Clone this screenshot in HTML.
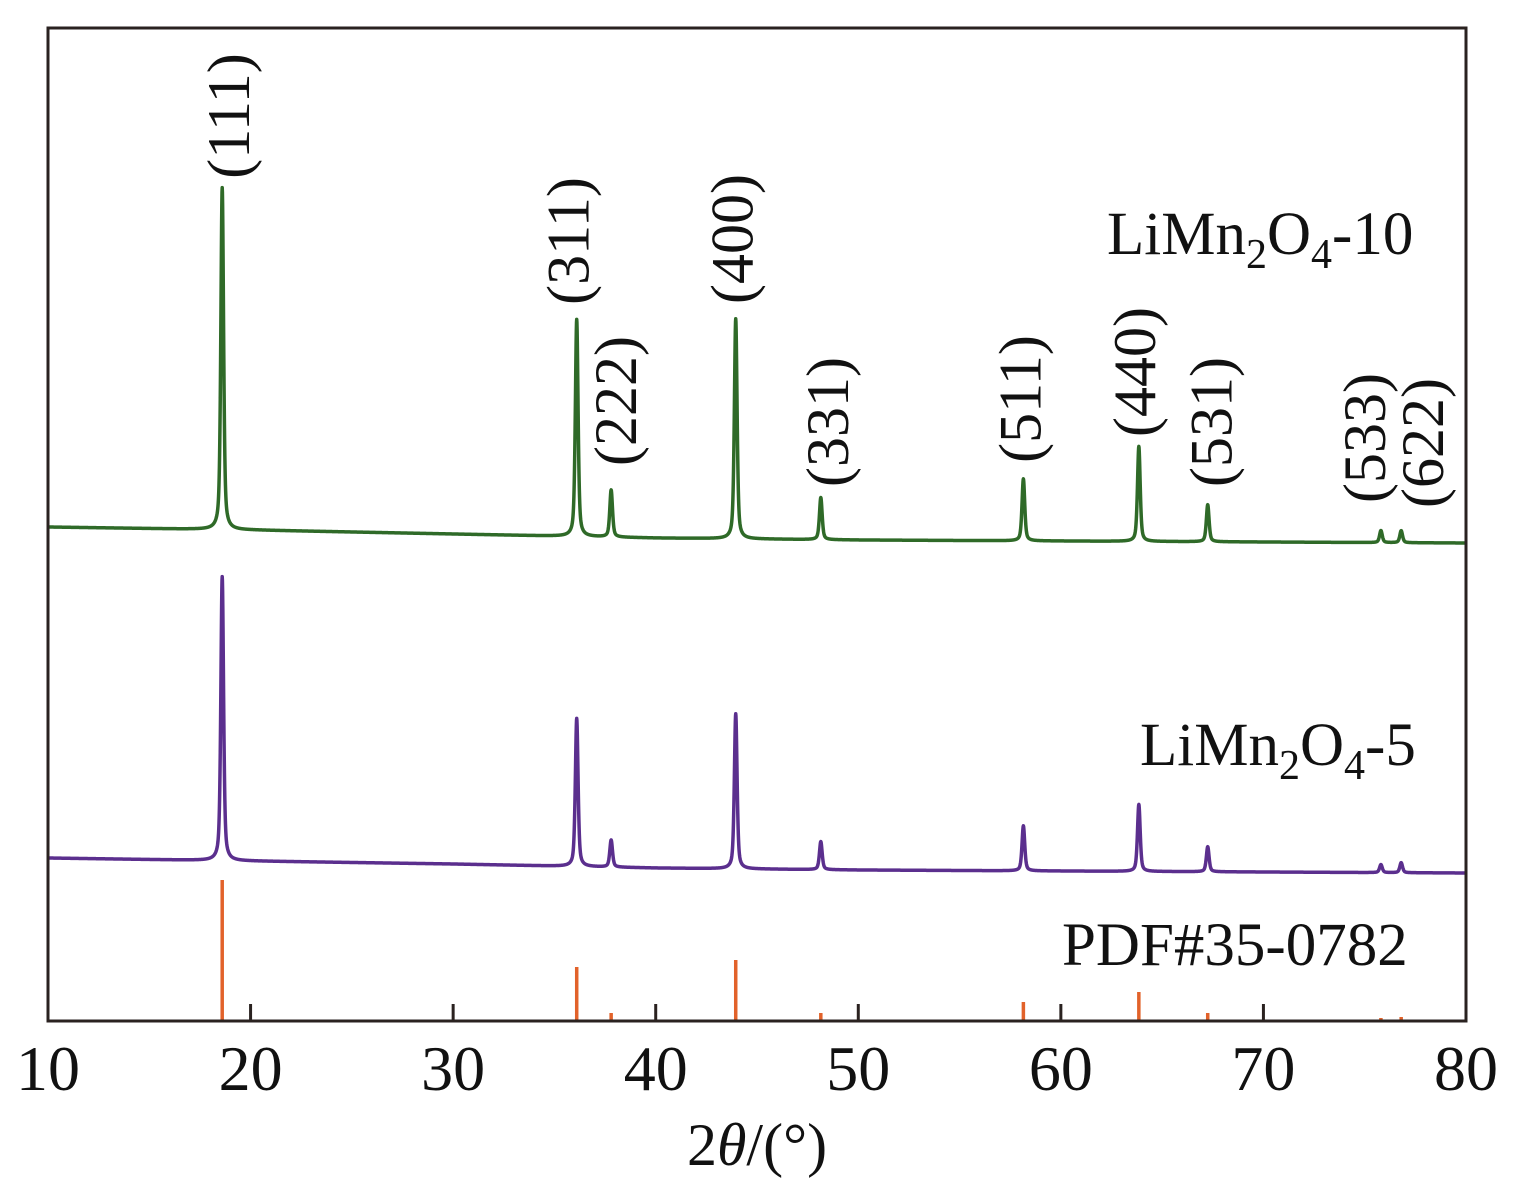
<!DOCTYPE html>
<html><head><meta charset="utf-8">
<style>
html,body{margin:0;padding:0;background:#fff;}
svg{display:block;}
text{font-family:"Liberation Serif",serif;fill:#111;}
</style></head>
<body>
<svg id="chart" width="1520" height="1195" viewBox="0 0 1520 1195" xmlns="http://www.w3.org/2000/svg">
<g id="plot"></g>
<rect x="48" y="28" width="1418" height="993" fill="none" stroke="#2a2220" stroke-width="3"/>
<g id="axis"></g>
<text x="757" y="1165" font-size="60" text-anchor="middle">2<tspan font-style="italic">θ</tspan>/(°)</text>
<text x="1107" y="254" font-size="61">LiMn<tspan font-size="42" dy="14">2</tspan><tspan dy="-14">O</tspan><tspan font-size="42" dy="14">4</tspan><tspan dy="-14">-10</tspan></text>
<text x="1140" y="765" font-size="61">LiMn<tspan font-size="42" dy="14">2</tspan><tspan dy="-14">O</tspan><tspan font-size="42" dy="14">4</tspan><tspan dy="-14">-5</tspan></text>
<text x="1062" y="965" font-size="61">PDF#35-0782</text>
<g id="hkl"></g>
</svg>
<script>
// ---- data ----
const peakPositions = [18.6, 36.1, 37.8, 43.95, 48.15, 58.15, 63.85, 67.25, 75.8, 76.8];
const hklLabels = ["(111)","(311)","(222)","(400)","(331)","(511)","(440)","(531)","(533)","(622)"];
const greenHeights = [342, 217, 47, 220, 42, 62, 95, 37, 12, 12];
const purpleHeights = [284, 148, 27, 155, 28, 45, 67, 25, 8, 10];
const refHeights = [141, 54, 8, 61, 8, 19, 29, 8, 3, 4];
const baselineX = [10, 20, 30, 40, 50, 60, 70, 80];
const greenBaseline = [494, 491, 487, 483, 481, 480, 479, 478];
const purpleBaseline = [163, 160, 157, 153, 151, 150, 149, 148];
const xTicks = [10, 20, 30, 40, 50, 60, 70, 80];
const labelCenterY = [116, 241, 401, 239, 422, 399, 372, 422, 438, 443];
const labelDx = [7, -8, 5, -3, 7, -3, -4, 4, -16, 22];

// ---- scales ----
const X0 = 48, X1 = 1466, Y0 = 1021;
const xs = v => X0 + (v - 10) / 70 * (X1 - X0);
const ys = v => Y0 - v;
const NS = "http://www.w3.org/2000/svg";
const plot = document.getElementById('plot');
const axis = document.getElementById('axis');
const hkl = document.getElementById('hkl');

function baseAt(arr, t) {
  for (let i = 0; i < baselineX.length - 1; i++) {
    if (t <= baselineX[i + 1]) {
      const f = (t - baselineX[i]) / (baselineX[i + 1] - baselineX[i]);
      return arr[i] + f * (arr[i + 1] - arr[i]);
    }
  }
  return arr[arr.length - 1];
}
function profile(base, heights, t) {
  let v = baseAt(base, t);
  const w = 0.08;
  for (let i = 0; i < peakPositions.length; i++) {
    const d = (t - peakPositions[i]) / w;
    v += heights[i] * (0.5 / (1 + d * d) + 0.5 * Math.exp(-d * d * 0.7));
  }
  return v;
}
function drawSeries(base, heights, color, name) {
  let d = "";
  for (let t = 10; t <= 80.0001; t += 0.01) {
    d += (d ? "L" : "M") + xs(t).toFixed(2) + "," + ys(profile(base, heights, t)).toFixed(2);
  }
  const p = document.createElementNS(NS, 'path');
  p.setAttribute('d', d);
  p.setAttribute('fill', 'none');
  p.setAttribute('stroke', color);
  p.setAttribute('stroke-width', '3.5');
  p.setAttribute('stroke-linejoin', 'round');
  
  
  plot.appendChild(p);
}
drawSeries(greenBaseline, greenHeights, '#2f6a28', 'series-limn2o4-10');
drawSeries(purpleBaseline, purpleHeights, '#5b2f8e', 'series-limn2o4-5');

for (let i = 0; i < peakPositions.length; i++) {
  const l = document.createElementNS(NS, 'line');
  l.setAttribute('x1', xs(peakPositions[i]));
  l.setAttribute('x2', xs(peakPositions[i]));
  l.setAttribute('y1', ys(0));
  l.setAttribute('y2', ys(refHeights[i]));
  l.setAttribute('stroke', '#e2622a');
  l.setAttribute('stroke-width', '3.5');
  
  
  plot.appendChild(l);

  const tx = document.createElementNS(NS, 'text');
  const cx = xs(peakPositions[i]) + labelDx[i], cy = labelCenterY[i];
  tx.setAttribute('transform', `translate(${cx},${cy}) rotate(-90)`);
  tx.setAttribute('text-anchor', 'middle');
  tx.setAttribute('dominant-baseline', 'central');
  tx.setAttribute('font-size', '60');
  tx.textContent = hklLabels[i];
  
  
  hkl.appendChild(tx);
}

xTicks.forEach(v => {
  if (v > 10 && v < 80) {
    const t = document.createElementNS(NS, 'line');
    t.setAttribute('x1', xs(v)); t.setAttribute('x2', xs(v));
    t.setAttribute('y1', Y0); t.setAttribute('y2', Y0 - 17);
    t.setAttribute('stroke', '#2a2220'); t.setAttribute('stroke-width', '3');
    
    
    axis.appendChild(t);
  }
  const lb = document.createElementNS(NS, 'text');
  lb.setAttribute('x', xs(v)); lb.setAttribute('y', 1090);
  lb.setAttribute('text-anchor', 'middle'); lb.setAttribute('font-size', '64');
  lb.textContent = v;
  
  
  axis.appendChild(lb);
});
</script>
</body></html>
